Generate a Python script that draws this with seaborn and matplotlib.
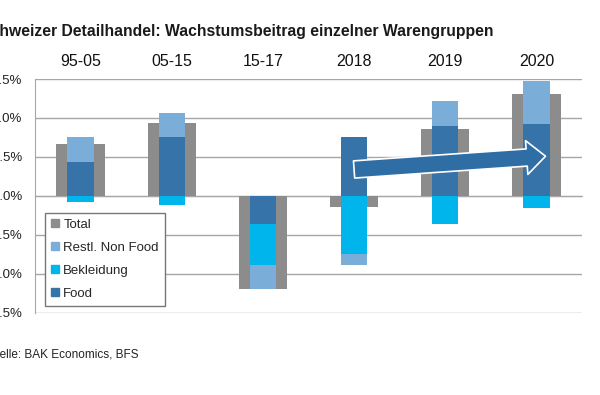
import numpy as np
import pandas as pd
import seaborn as sns
import matplotlib
matplotlib.use('Agg')
import matplotlib.pyplot as plt
from matplotlib.lines import Line2D

# data (Wachstumsbeitrag in Prozentpunkten)
categories = ['95-05', '05-15', '15-17', '2018', '2019', '2020']
food = [0.43, 0.75, -0.36, 0.75, 0.90, 0.92]
bekleidung = [-0.08, -0.11, -0.53, -0.74, -0.36, -0.16]
non_food = [0.32, 0.32, -0.30, -0.15, 0.32, 0.55]
total = [0.67, 0.94, -1.19, -0.14, 0.86, 1.31]
y_ticks = [-1.5, -1.0, -0.5, 0.0, 0.5, 1.0, 1.5]

colors = {'Total': '#8c8c8c', 'Restl. Non Food': '#7aaed8',
          'Bekleidung': '#00b5ec', 'Food': '#3573a8'}

sns.set_style('white')
plt.rcParams['font.family'] = ['Liberation Sans', 'DejaVu Sans']
plt.rcParams['axes.unicode_minus'] = False

fig = plt.figure(figsize=(6, 3.95), dpi=100)
ax = fig.add_axes([0.0583, 0.2076, 0.9117, 0.5924])

df = pd.DataFrame({'cat': categories, 'Food': food, 'Bekleidung': bekleidung,
                   'Restl. Non Food': non_food, 'Total': total})

# total bar (wide, behind)
sns.barplot(df, x='cat', y='Total', order=categories, color=colors['Total'],
            width=0.53, saturation=1, linewidth=0, ax=ax, zorder=2)

# diverging stack: Food, Bekleidung, Restl. Non Food -> draw cumulative layers top-down
comps = ['Food', 'Bekleidung', 'Restl. Non Food']
pos = df[comps].clip(lower=0).cumsum(axis=1)
neg = df[comps].clip(upper=0).cumsum(axis=1)
for comp in reversed(comps):
    for part in (pos, neg):
        layer = pd.DataFrame({'cat': categories, 'v': part[comp].values})
        sns.barplot(layer, x='cat', y='v', order=categories, color=colors[comp],
                    width=0.29, saturation=1, linewidth=0, ax=ax, zorder=3)

ax.set_ylim(-1.5, 1.5)
ax.set_xlim(-0.5, 5.5)
ax.set_yticks(y_ticks)
ax.set_yticklabels([f'{v:.1f}%' for v in y_ticks])
ax.tick_params(axis='y', length=3, width=1, pad=6, labelsize=9.5,
               colors='#a6a6a6', labelcolor='#222222')
ax.yaxis.grid(True, color='#a6a6a6', lw=1)
ax.set_axisbelow(True)
ax.set_xlabel('')
ax.set_ylabel('')

# x axis sits on zero line with category separator ticks
for s in ['top', 'right']:
    ax.spines[s].set_visible(False)
ax.spines['left'].set_color('#a6a6a6')
ax.spines['bottom'].set_position(('data', 0))
ax.spines['bottom'].set_color('#a6a6a6')
ax.spines['bottom'].set_zorder(1)
ax.set_xticks(np.arange(-0.5, 6, 1), minor=True)
ax.tick_params(axis='x', which='minor', length=4, direction='out', color='#a6a6a6', width=1)
ax.tick_params(axis='x', which='major', length=0, labelbottom=False)

top = ax.secondary_xaxis('top')
top.set_xticks(range(len(categories)))
top.set_xticklabels(categories)
top.tick_params(length=0, pad=7, labelsize=11.5, colors='#111111')
top.spines['top'].set_visible(False)

# arrow
ax.annotate('', xy=(5.1, 0.51), xytext=(3.0, 0.34),
            arrowprops=dict(arrowstyle='simple,head_length=0.68,head_width=1.22,tail_width=0.62',
                            fc='#2f6ea5', ec='white', lw=1.2, mutation_scale=20,
                            shrinkA=0, shrinkB=0), zorder=5)

handles = [Line2D([], [], marker='s', ls='', color=colors[k], markersize=6)
           for k in ['Total', 'Restl. Non Food', 'Bekleidung', 'Food']]
leg = ax.legend(handles, ['Total', 'Restl. Non Food', 'Bekleidung', 'Food'],
                loc='lower left', bbox_to_anchor=(0.018, 0.03), fontsize=9.5,
                frameon=True, fancybox=False, edgecolor='#777777', framealpha=1,
                labelspacing=0.82, handlelength=0.6, handletextpad=0.35,
                borderpad=0.45, borderaxespad=0)
leg.get_frame().set_linewidth(1)
leg.set_zorder(6)

fig.text(-0.034, 0.909, 'Schweizer Detailhandel: Wachstumsbeitrag einzelner Warengruppen',
         fontsize=11.3, fontweight='bold', color='#1a1a1a', ha='left', va='baseline')
fig.text(-0.026, 0.094, 'Quelle: BAK Economics, BFS', fontsize=8.5, color='#222222',
         ha='left', va='baseline')

fig.savefig('out.png', dpi=100)
